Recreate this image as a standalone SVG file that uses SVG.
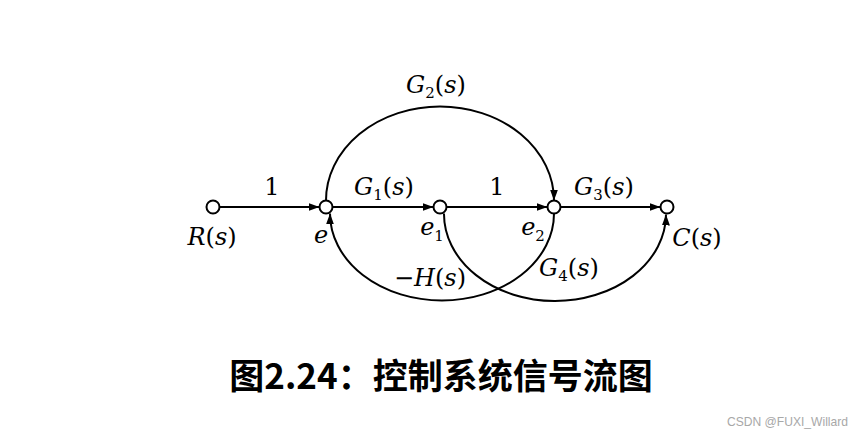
<svg xmlns="http://www.w3.org/2000/svg" width="864" height="441" viewBox="0 0 864 441">
<style>
.bg{fill:#fff}
.edge{fill:none;stroke:#000;stroke-width:2}
.node{fill:#fff;stroke:#000;stroke-width:2}
.t{font-family:"DejaVu Serif","Liberation Serif",serif;font-size:24px;font-style:italic;fill:#000}
.n{font-style:normal}
.sb{font-size:15px;font-style:normal}
.title{font-family:"Noto Sans CJK SC","Noto Sans",sans-serif;font-weight:bold;font-size:35px;fill:#000}
.wm{font-family:"Liberation Sans",Arial,sans-serif;font-size:13px;fill:#a8a8a8}
</style>
<defs>
<marker id="arr" markerUnits="userSpaceOnUse" markerWidth="11" markerHeight="8" refX="11" refY="4" orient="auto">
<path d="M0,0 L11,4 L0,8 z" fill="#000"/>
</marker>
</defs>
<rect class="bg" x="0" y="0" width="864" height="441"/>
<g id="connectors">
<path class="edge" d="M219.5,207 L319.5,207" marker-end="url(#arr)"/>
<path class="edge" d="M332.5,207 L433.5,207" marker-end="url(#arr)"/>
<path class="edge" d="M446.5,207 L547.5,207" marker-end="url(#arr)"/>
<path class="edge" d="M560.5,207 L660.5,207" marker-end="url(#arr)"/>
<path class="edge" d="M326,200.5 A114,94 0 0 1 554,200.5" marker-end="url(#arr)"/>
<path class="edge" d="M554,213.5 A112,87 0 0 1 330,213.5" marker-end="url(#arr)"/>
<path class="edge" d="M444,213.5 A111,87 0 0 0 666,214.5" marker-end="url(#arr)"/>
</g>
<g id="node-R"><circle class="node" cx="213" cy="207" r="6.5"/></g>
<g id="node-e"><circle class="node" cx="326" cy="207" r="6.5"/></g>
<g id="node-e1"><circle class="node" cx="440" cy="207" r="6.5"/></g>
<g id="node-e2"><circle class="node" cx="554" cy="207" r="6.5"/></g>
<g id="node-C"><circle class="node" cx="667" cy="207" r="6.5"/></g>
<g id="labels">
<text class="t" x="212" y="245" text-anchor="middle">R<tspan class="n">(</tspan>s<tspan class="n">)</tspan></text>
<text class="t" x="321" y="243" text-anchor="middle">e</text>
<text class="t" x="432" y="235" text-anchor="middle">e<tspan class="sb" dy="6">1</tspan></text>
<text class="t" x="533" y="235" text-anchor="middle">e<tspan class="sb" dy="6">2</tspan></text>
<text class="t" x="697" y="246" text-anchor="middle">C<tspan class="n">(</tspan>s<tspan class="n">)</tspan></text>
<text class="t n" x="272" y="195" text-anchor="middle">1</text>
<text class="t n" x="497" y="195" text-anchor="middle">1</text>
<text class="t" x="384" y="195" text-anchor="middle">G<tspan class="sb" dy="5">1</tspan><tspan class="n" dy="-5">(</tspan>s<tspan class="n">)</tspan></text>
<text class="t" x="436" y="93" text-anchor="middle">G<tspan class="sb" dy="5">2</tspan><tspan class="n" dy="-5">(</tspan>s<tspan class="n">)</tspan></text>
<text class="t" x="604" y="195" text-anchor="middle">G<tspan class="sb" dy="5">3</tspan><tspan class="n" dy="-5">(</tspan>s<tspan class="n">)</tspan></text>
<text class="t" x="569" y="276" text-anchor="middle">G<tspan class="sb" dy="5">4</tspan><tspan class="n" dy="-5">(</tspan>s<tspan class="n">)</tspan></text>
<text class="t" x="430" y="286" text-anchor="middle"><tspan class="n">−</tspan>H<tspan class="n">(</tspan>s<tspan class="n">)</tspan></text>
</g>
<text class="title" x="441" y="389" text-anchor="middle">图2.24：控制系统信号流图</text>
<text class="wm" x="848" y="426" text-anchor="end" textLength="121" lengthAdjust="spacingAndGlyphs">CSDN @FUXI_Willard</text>
</svg>
